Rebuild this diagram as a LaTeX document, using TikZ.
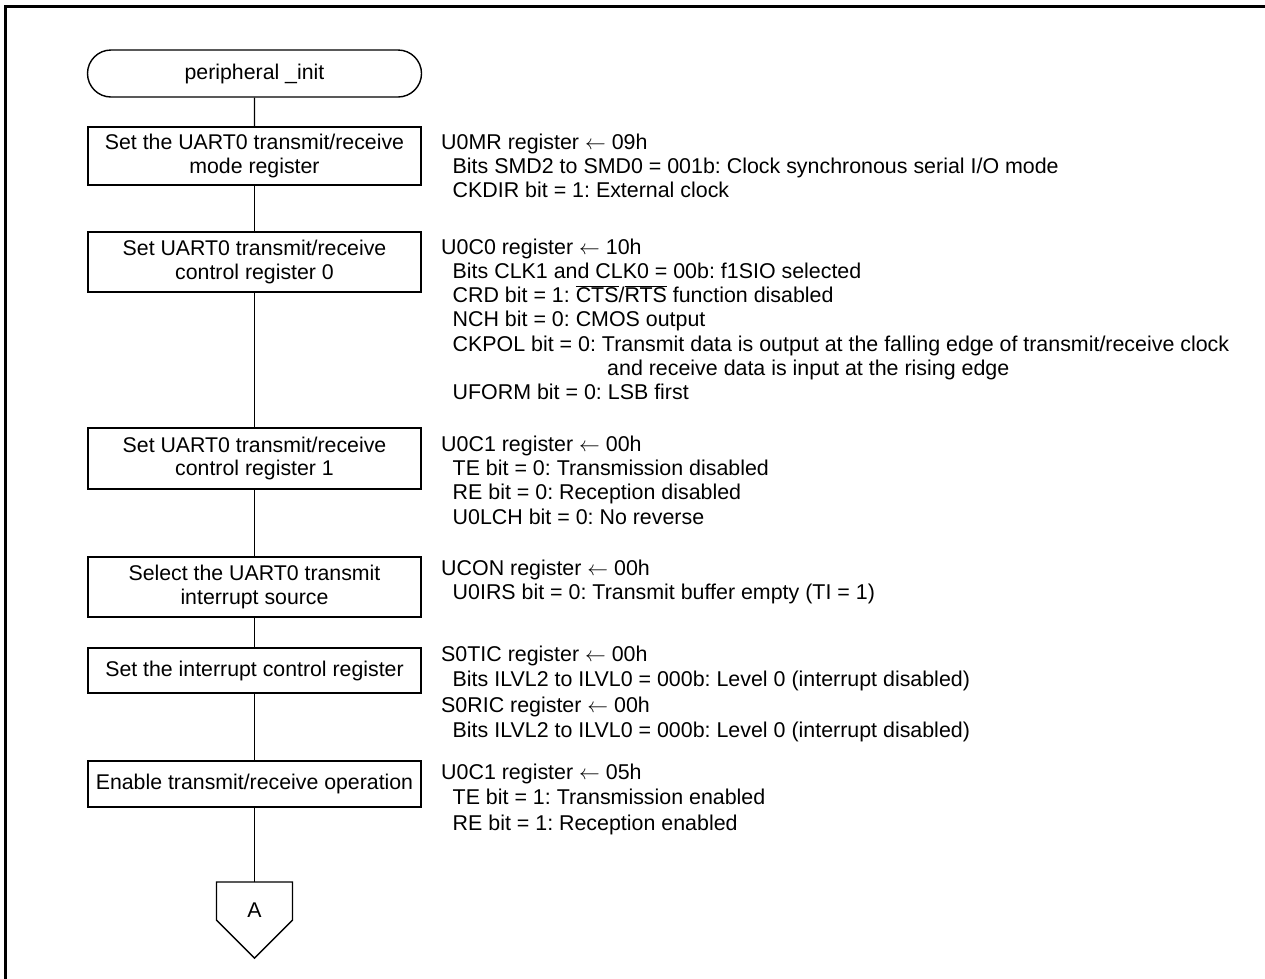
\documentclass[tikz,border=0pt]{standalone}
\usepackage{fontspec}
\setmainfont{Liberation Sans}
\usetikzlibrary{shapes.misc,calc}
\frenchspacing
\newcommand\fl{\rule{0pt}{17pt}}
\newcommand\ind{\hspace*{11.5pt}}
\newcommand\la{$\leftarrow$}
\tikzset{
  every node/.style={inner sep=0pt},
  flowbox/.style={draw, line width=1.4pt, minimum width=333pt, align=center, font=\fontsize{21.3}{23.5}\selectfont},
  term/.style={draw, line width=1.4pt, rounded rectangle, minimum width=334pt, minimum height=47pt, font=\fontsize{21.3}{23.5}\selectfont},
  note/.style={anchor=north west, align=left},
  link/.style={line width=1.4pt},
}
\begin{document}
\begin{tikzpicture}[x=1pt,y=-1pt]
\useasboundingbox (0,0) rectangle (1265,978);
\draw[line width=3pt] (5.5,980) -- (5.5,6.5) -- (1267,6.5);

\node[term] (term) at (254.5,73.5) {peripheral \_init};
\node[flowbox, minimum height=58pt] (b1) at (254.5,156) {Set the UART0 transmit/receive\\mode register};
\node[flowbox, minimum height=60pt] (b2) at (254.5,262) {Set UART0 transmit/receive\\control register 0};
\node[flowbox, minimum height=61pt] (b3) at (254.5,458.5) {Set UART0 transmit/receive\\control register 1};
\node[flowbox, minimum height=60pt] (b4) at (254.5,587) {Select the UART0 transmit\\interrupt source};
\node[flowbox, minimum height=45pt] (b5) at (254.5,670.5) {Set the interrupt control register};
\node[flowbox, minimum height=46pt] (b6) at (254.5,784) {Enable transmit/receive operation};

\coordinate (Atop) at (254.5,882);
\node[anchor=base, font=\fontsize{21.3}{23.5}\selectfont] (A) at (254.5,917) {A};
\draw[link, line join=miter] ($(Atop)+(-38,0)$) -- ($(Atop)+(-38,38)$) -- ($(Atop)+(0,76)$) -- ($(Atop)+(38,38)$) -- ($(Atop)+(38,0)$) -- cycle;

\draw[link] (term) -- (b1);
\draw[link] (b1) -- (b2);
\draw[link] (b2) -- (b3);
\draw[link] (b3) -- (b4);
\draw[link] (b4) -- (b5);
\draw[link] (b5) -- (b6);
\draw[link] (b6) -- (Atop);

\node[note, font=\fontsize{21.4}{24.3}\selectfont] (n1) at (441,132) {\fl U0MR register \la{} 09h\\
\ind Bits SMD2 to SMD0 = 001b: Clock synchronous serial I/O mode\\
\ind CKDIR bit = 1: External clock};

\node[note, font=\fontsize{21.4}{24.2}\selectfont] (n2) at (441,237) {\fl U0C0 register \la{} 10h\\
\ind Bits CLK1 and CLK0 = 00b: f1SIO selected\\
\ind CRD bit = 1: $\overline{\hbox{CTS}}$/$\overline{\hbox{RTS}}$ function disabled\\
\ind NCH bit = 0: CMOS output\\
\ind CKPOL bit = 0: Transmit data is output at the falling edge of transmit/receive clock\\
\hspace*{166pt}and receive data is input at the rising edge\\
\ind UFORM bit = 0: LSB first};

\node[note, font=\fontsize{21.4}{24.3}\selectfont] (n3) at (441,434) {\fl U0C1 register \la{} 00h\\
\ind TE bit = 0: Transmission disabled\\
\ind RE bit = 0: Reception disabled\\
\ind U0LCH bit = 0: No reverse};

\node[note, font=\fontsize{21.4}{24}\selectfont] (n4) at (441,558) {\fl UCON register \la{} 00h\\
\ind U0IRS bit = 0: Transmit buffer empty (TI = 1)};

\node[note, font=\fontsize{21.4}{25.4}\selectfont] (n5) at (441,644) {\fl S0TIC register \la{} 00h\\
\ind Bits ILVL2 to ILVL0 = 000b: Level 0 (interrupt disabled)\\
S0RIC register \la{} 00h\\
\ind Bits ILVL2 to ILVL0 = 000b: Level 0 (interrupt disabled)};

\node[note, font=\fontsize{21.4}{25.5}\selectfont] (n6) at (441,762) {\fl U0C1 register \la{} 05h\\
\ind TE bit = 1: Transmission enabled\\
\ind RE bit = 1: Reception enabled};
\end{tikzpicture}
\end{document}
